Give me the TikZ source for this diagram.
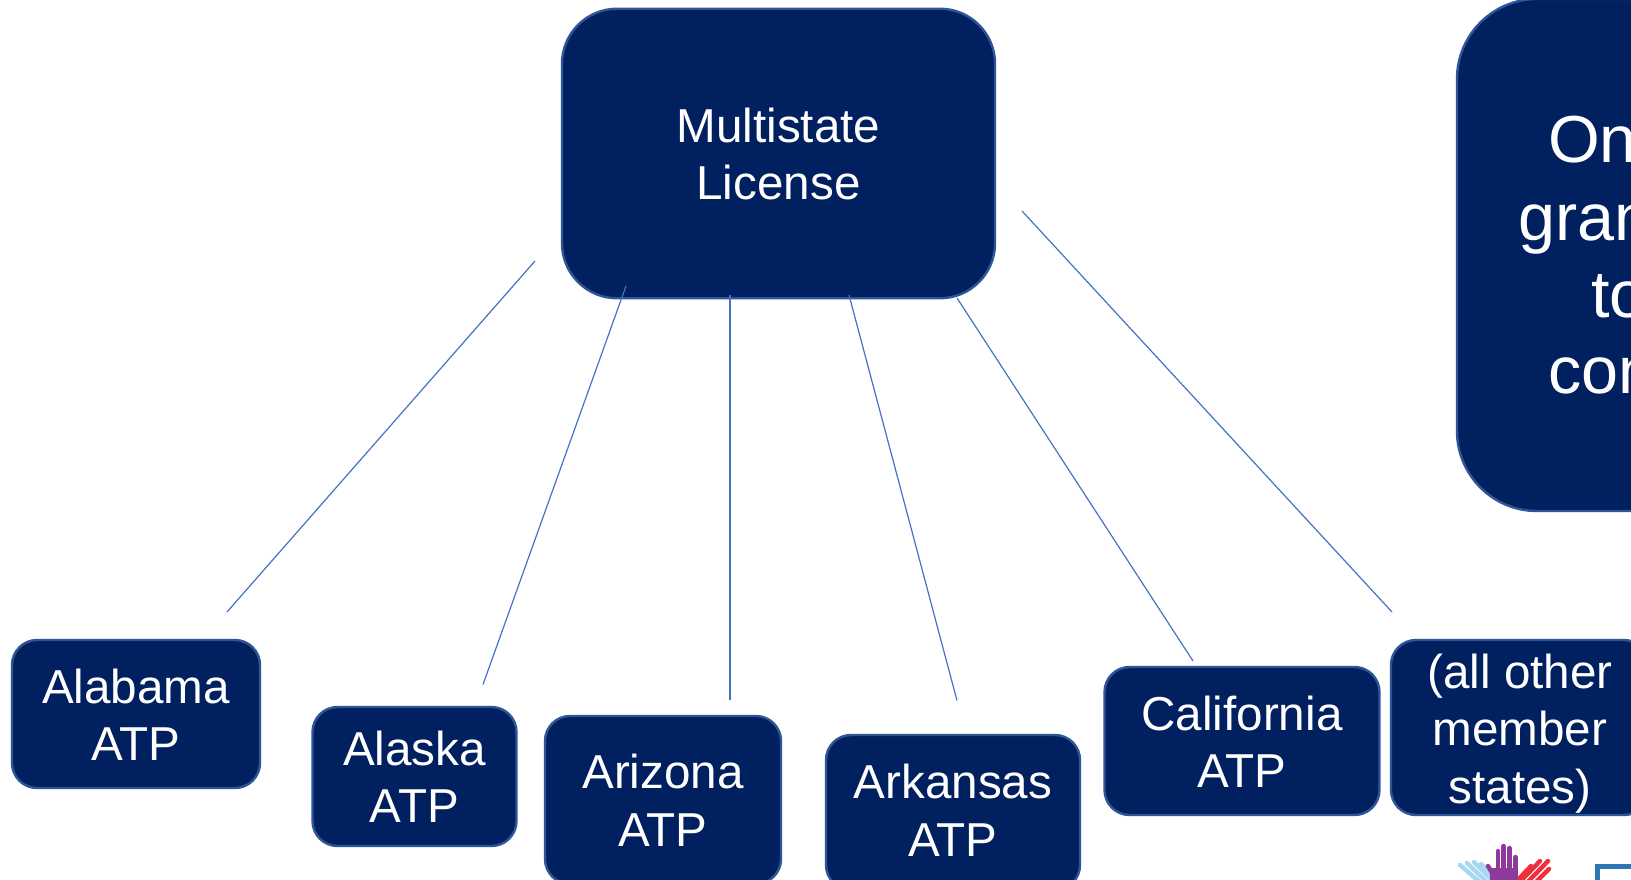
\documentclass[tikz,border=0pt]{standalone}
\usepackage{fontspec}
\setmainfont{Liberation Sans}
\definecolor{navy}{HTML}{002060}
\definecolor{edge}{HTML}{2F5597}
\definecolor{wire}{HTML}{4472C4}
\definecolor{handblue}{HTML}{A6D8F4}
\definecolor{handpurple}{HTML}{8E3A9D}
\definecolor{handred}{HTML}{EE2F3C}
\definecolor{logoblue}{HTML}{2E75B6}
% last baseline sits #1 below the node centre
\newcommand{\tl}[2]{\smash{\raisebox{-#1pt}{\begin{tabular}[b]{@{}c@{}}#2\end{tabular}}}}
\tikzset{
  x=1pt,y=-1pt,
  boxshape/.style={draw=edge,line width=2.4pt,fill=navy,text=white,inner sep=0pt,
     font=\fontsize{47.6}{57.5}\selectfont},
  bigtext/.style={text=white,inner sep=0pt,anchor=base west,font=\fontsize{66.5}{77}\selectfont},
  wireline/.style={draw=wire,line width=1.2pt},
  finger/.style={line width=4.4pt,line cap=round},
}
\begin{document}
\begin{tikzpicture}
\useasboundingbox (0,0) rectangle (1631,880);
\clip (0,0) rectangle (1631,880);
\fill[white] (0,0) rectangle (1631,880);

% boxes
\node[boxshape,rounded corners=55pt,minimum width=433pt,minimum height=289.5pt] (multi) at (778.5,153.5) {\tl{46.5}{Multistate\\License}};
\node[boxshape,rounded corners=80pt,minimum width=400pt,minimum height=512pt] (one) at (1657,255) {};
\node[boxshape,rounded corners=25pt,minimum width=248pt,minimum height=148pt] (alabama) at (136,714) {\tl{46.5}{Alabama\\ATP}};
\node[boxshape,rounded corners=25pt,minimum width=204pt,minimum height=139pt] (alaska) at (414.5,776.5) {\tl{46}{Alaska\\ATP}};
\node[boxshape,rounded corners=25pt,minimum width=236pt,minimum height=168pt] (arizona) at (663,800) {\tl{46}{Arizona\\ATP}};
\node[boxshape,rounded corners=25pt,minimum width=254pt,minimum height=155pt] (arkansas) at (953,812.5) {\tl{43.5}{Arkansas\\ATP}};
\node[boxshape,rounded corners=25pt,minimum width=275pt,minimum height=148pt] (california) at (1242,741) {\tl{46.5}{California\\ATP}};
\node[boxshape,rounded corners=25pt,minimum width=258pt,minimum height=175pt] (other) at (1520,727.5) {\tl{75.5}{(all other\\member\\states)}};

% cut-off text of the right box
\node[bigtext] (one1) at (1548,163) {On};
\node[bigtext] (one2) at (1518,240) {gran};
\node[bigtext] (one3) at (1591,317) {to};
\node[bigtext] (one4) at (1548,393) {con};

% connectors
\coordinate (a1) at (535,261);  \coordinate (a2) at (227,612);
\coordinate (b1) at (626,286);  \coordinate (b2) at (483,684.5);
\coordinate (c1) at (730,295);  \coordinate (c2) at (730,700);
\coordinate (d1) at (849,295);  \coordinate (d2) at (957,700.5);
\coordinate (e1) at (957,298);  \coordinate (e2) at (1193,661);
\coordinate (f1) at (1022,211); \coordinate (f2) at (1392,612);
\draw[wireline] (a1) -- (a2);
\draw[wireline] (b1) -- (b2);
\draw[wireline] (c1) -- (c2);
\draw[wireline] (d1) -- (d2);
\draw[wireline] (e1) -- (e2);
\draw[wireline] (f1) -- (f2);

% logo
\begin{scope}[finger,handblue]
  \draw (1460,865) -- (1482,884);
  \draw (1467,863) -- (1489,884);
  \draw (1474,862) -- (1496,884);
  \draw (1481,864) -- (1503,884);
\end{scope}
\begin{scope}[finger,handred]
  \draw (1549,869) -- (1526,892);
  \draw (1548,861) -- (1520,890);
  \draw (1540,861) -- (1514,888);
  \draw (1531,866) -- (1510,888);
\end{scope}
\fill[handpurple] (1490,868) -- (1518,868) -- (1518,884) -- (1490,884) -- cycle;
\begin{scope}[finger,handpurple]
  \draw (1498,851) -- (1498,872);
  \draw (1503.5,846) -- (1503.5,872);
  \draw (1509.5,848) -- (1509.5,872);
  \draw (1515.5,857) -- (1515.5,872);
  \draw (1488,866) -- (1494,876);
\end{scope}
\draw[logoblue,line width=5pt] (1640,866.5) -- (1597.5,866.5) -- (1597.5,890);
\end{tikzpicture}
\end{document}
